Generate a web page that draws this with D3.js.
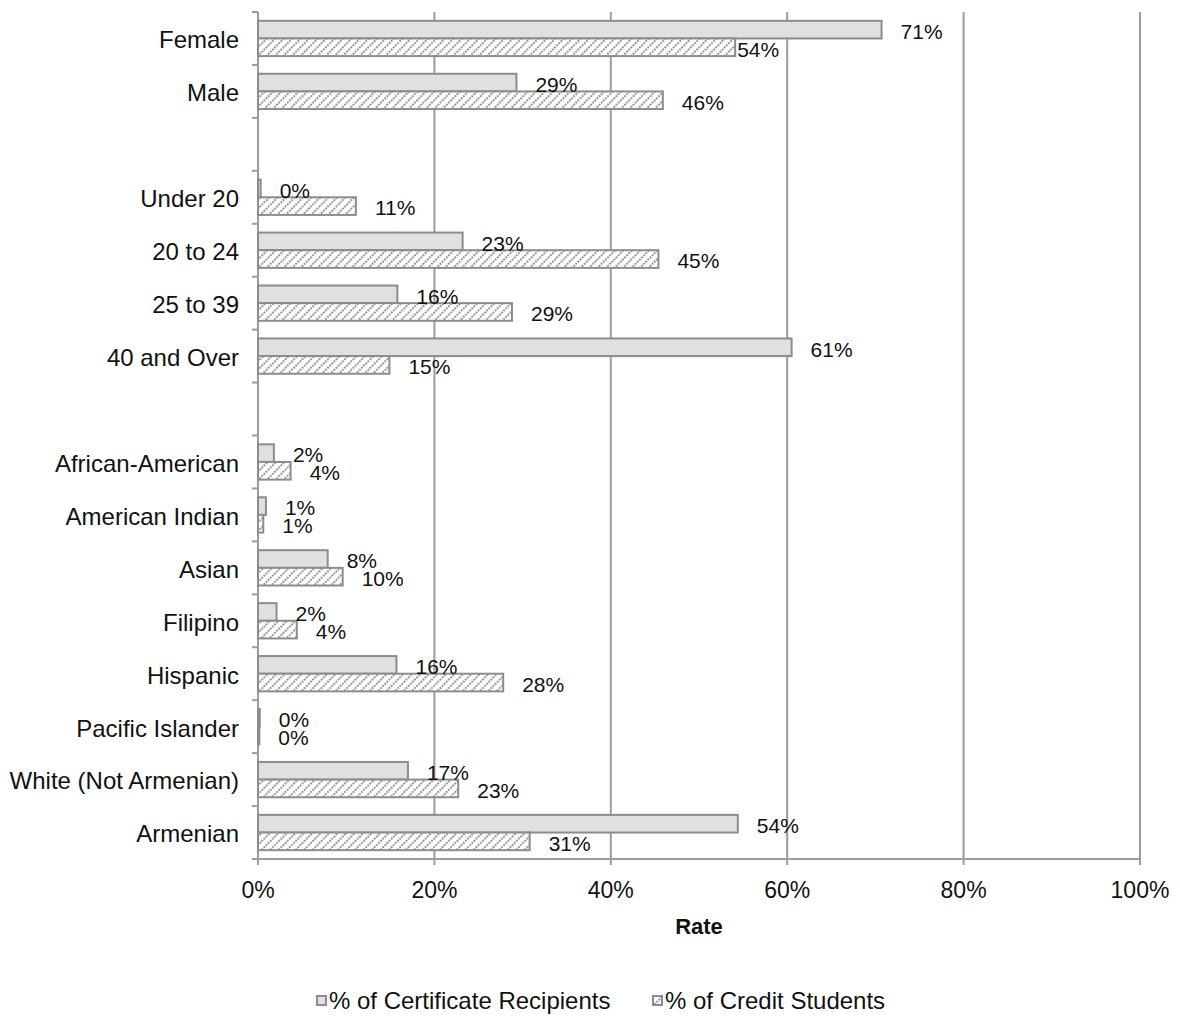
<!DOCTYPE html>
<html>
<head>
<meta charset="utf-8">
<script src="https://cdn.jsdelivr.net/npm/d3@7"></script>
<style>
  body { margin: 0; background: #fff; }
  svg { display: block; font-family: "Liberation Sans", Arial, Helvetica, sans-serif; }
</style>
</head>
<body>
<div id="chartArea"></div>
<script>
// categories, top to bottom ("" = empty spacer row)
var categories = ["Female", "Male", "",
  "Under 20", "20 to 24", "25 to 39", "40 and Over", "",
  "African-American", "American Indian", "Asian", "Filipino", "Hispanic",
  "Pacific Islander", "White (Not Armenian)", "Armenian"];

// percent values (null for spacer rows)
var certRecipients = [70.7, 29.3, null,
  0.3, 23.2, 15.8, 60.5, null,
  1.8, 0.9, 7.9, 2.1, 15.7, 0.2, 17.0, 54.4];
var creditStudents = [54.1, 45.9, null,
  11.1, 45.4, 28.8, 14.9, null,
  3.7, 0.6, 9.6, 4.4, 27.8, 0.15, 22.7, 30.8];

var seriesNames = ["% of Certificate Recipients", "% of Credit Students"];
var xTicks = [0, 20, 40, 60, 80, 100];

// label nudges (label placed close to bar end)
var labelTight = { "0_1": true };

var svg = d3.select("#chartArea").append("svg")
  .attr("width", 1180).attr("height", 1017);

var margin = { top: 12, left: 258, right: 40, bottom: 158 };
var width = 1180 - margin.left - margin.right,
    height = 1017 - margin.top - margin.bottom;

var g = svg.append("g").attr("transform", "translate(" + margin.left + "," + margin.top + ")");

// hatch fill for credit students: dotted "/" diagonals
var defs = svg.append("defs");
var pat = defs.append("pattern")
  .attr("id", "hatch")
  .attr("patternUnits", "userSpaceOnUse")
  .attr("width", 6).attr("height", 6)
  .attr("patternTransform", "rotate(45)");
pat.append("rect").attr("width", 6).attr("height", 6).attr("fill", "#fff");
pat.append("line")
  .attr("x1", 1).attr("x2", 1).attr("y1", 0).attr("y2", 6)
  .attr("stroke", "#8e8e8e").attr("stroke-width", 1.8)
  .attr("stroke-dasharray", "2,1");

var rowIds = categories.map(function(c, i) { return "r" + i; });

var x = d3.scaleLinear().domain([0, 100]).range([0, width]);
var y = d3.scaleBand().domain(rowIds).range([0, height]).padding(0);
var ySub = d3.scaleBand().domain([0, 1]).range([0, y.bandwidth()]).paddingOuter(0.5).paddingInner(0);

var gridColor = "#9c9c9c";

// vertical gridlines and axis line
g.append("g").selectAll("line").data(xTicks).enter().append("line")
  .attr("x1", function(d) { return x(d); })
  .attr("x2", function(d) { return x(d); })
  .attr("y1", 0).attr("y2", height + 6)
  .attr("stroke", gridColor).attr("stroke-width", 2);

// y tick marks at row boundaries
var bounds = d3.range(categories.length + 1);
g.append("g").selectAll("line").data(bounds).enter().append("line")
  .attr("x1", -6).attr("x2", 0)
  .attr("y1", function(i) { return i * y.step(); })
  .attr("y2", function(i) { return i * y.step(); })
  .attr("stroke", gridColor).attr("stroke-width", 2);

// x bottom axis line
g.append("line")
  .attr("x1", 0).attr("x2", width)
  .attr("y1", height).attr("y2", height)
  .attr("stroke", gridColor).attr("stroke-width", 2);

// x tick labels
g.append("g").selectAll("text").data(xTicks).enter().append("text")
  .attr("x", function(d) { return x(d); })
  .attr("y", height + 31)
  .attr("dy", "0.35em")
  .attr("text-anchor", "middle")
  .style("font-size", "23px")
  .attr("fill", "#111")
  .text(function(d) { return d + "%"; });

// axis title
g.append("text")
  .attr("x", width / 2).attr("y", height + 67)
  .attr("dy", "0.35em")
  .attr("text-anchor", "middle")
  .style("font-size", "22px").style("font-weight", "bold")
  .attr("fill", "#111")
  .text("Rate");

// category labels
g.append("g").selectAll("text").data(categories).enter().append("text")
  .attr("x", -19)
  .attr("y", function(d, i) { return y(rowIds[i]) + y.bandwidth() / 2 + 1.5; })
  .attr("dy", "0.35em")
  .attr("text-anchor", "end")
  .style("font-size", "24px")
  .attr("fill", "#111")
  .text(function(d) { return d; });

// bars
var barData = [];
categories.forEach(function(c, i) {
  [certRecipients[i], creditStudents[i]].forEach(function(v, s) {
    if (v !== null) barData.push({ row: i, s: s, v: v });
  });
});

g.append("g").selectAll("rect").data(barData).enter().append("rect")
  .attr("x", 0)
  .attr("y", function(d) { return y(rowIds[d.row]) + ySub(d.s); })
  .attr("width", function(d) { return x(d.v); })
  .attr("height", ySub.bandwidth())
  .attr("fill", function(d) { return d.s === 0 ? "#e0e0e0" : "url(#hatch)"; })
  .attr("stroke", "#8c8c8c").attr("stroke-width", 2);

// data labels
g.append("g").selectAll("text").data(barData).enter().append("text")
  .attr("x", function(d) { return x(d.v) + (labelTight[d.row + "_" + d.s] ? 2 : 19); })
  .attr("y", function(d) { return y(rowIds[d.row]) + ySub(d.s) + ySub.bandwidth() / 2 + 2; })
  .attr("dy", "0.35em")
  .style("font-size", "21px")
  .attr("fill", "#111")
  .text(function(d) { return Math.round(d.v) + "%"; });

// legend
var legendX = [317, 653];
var legend = svg.append("g").selectAll("g").data(seriesNames).enter().append("g")
  .attr("transform", function(d, i) { return "translate(" + legendX[i] + ",996)"; });
legend.append("rect")
  .attr("width", 9).attr("height", 9)
  .attr("fill", function(d, i) { return i === 0 ? "#e0e0e0" : "url(#hatch)"; })
  .attr("stroke", "#8c8c8c").attr("stroke-width", 2);
legend.append("text")
  .attr("x", 12).attr("y", 5)
  .attr("dy", "0.35em")
  .style("font-size", "24px")
  .attr("fill", "#111")
  .text(function(d) { return d; });
</script>
</body>
</html>
